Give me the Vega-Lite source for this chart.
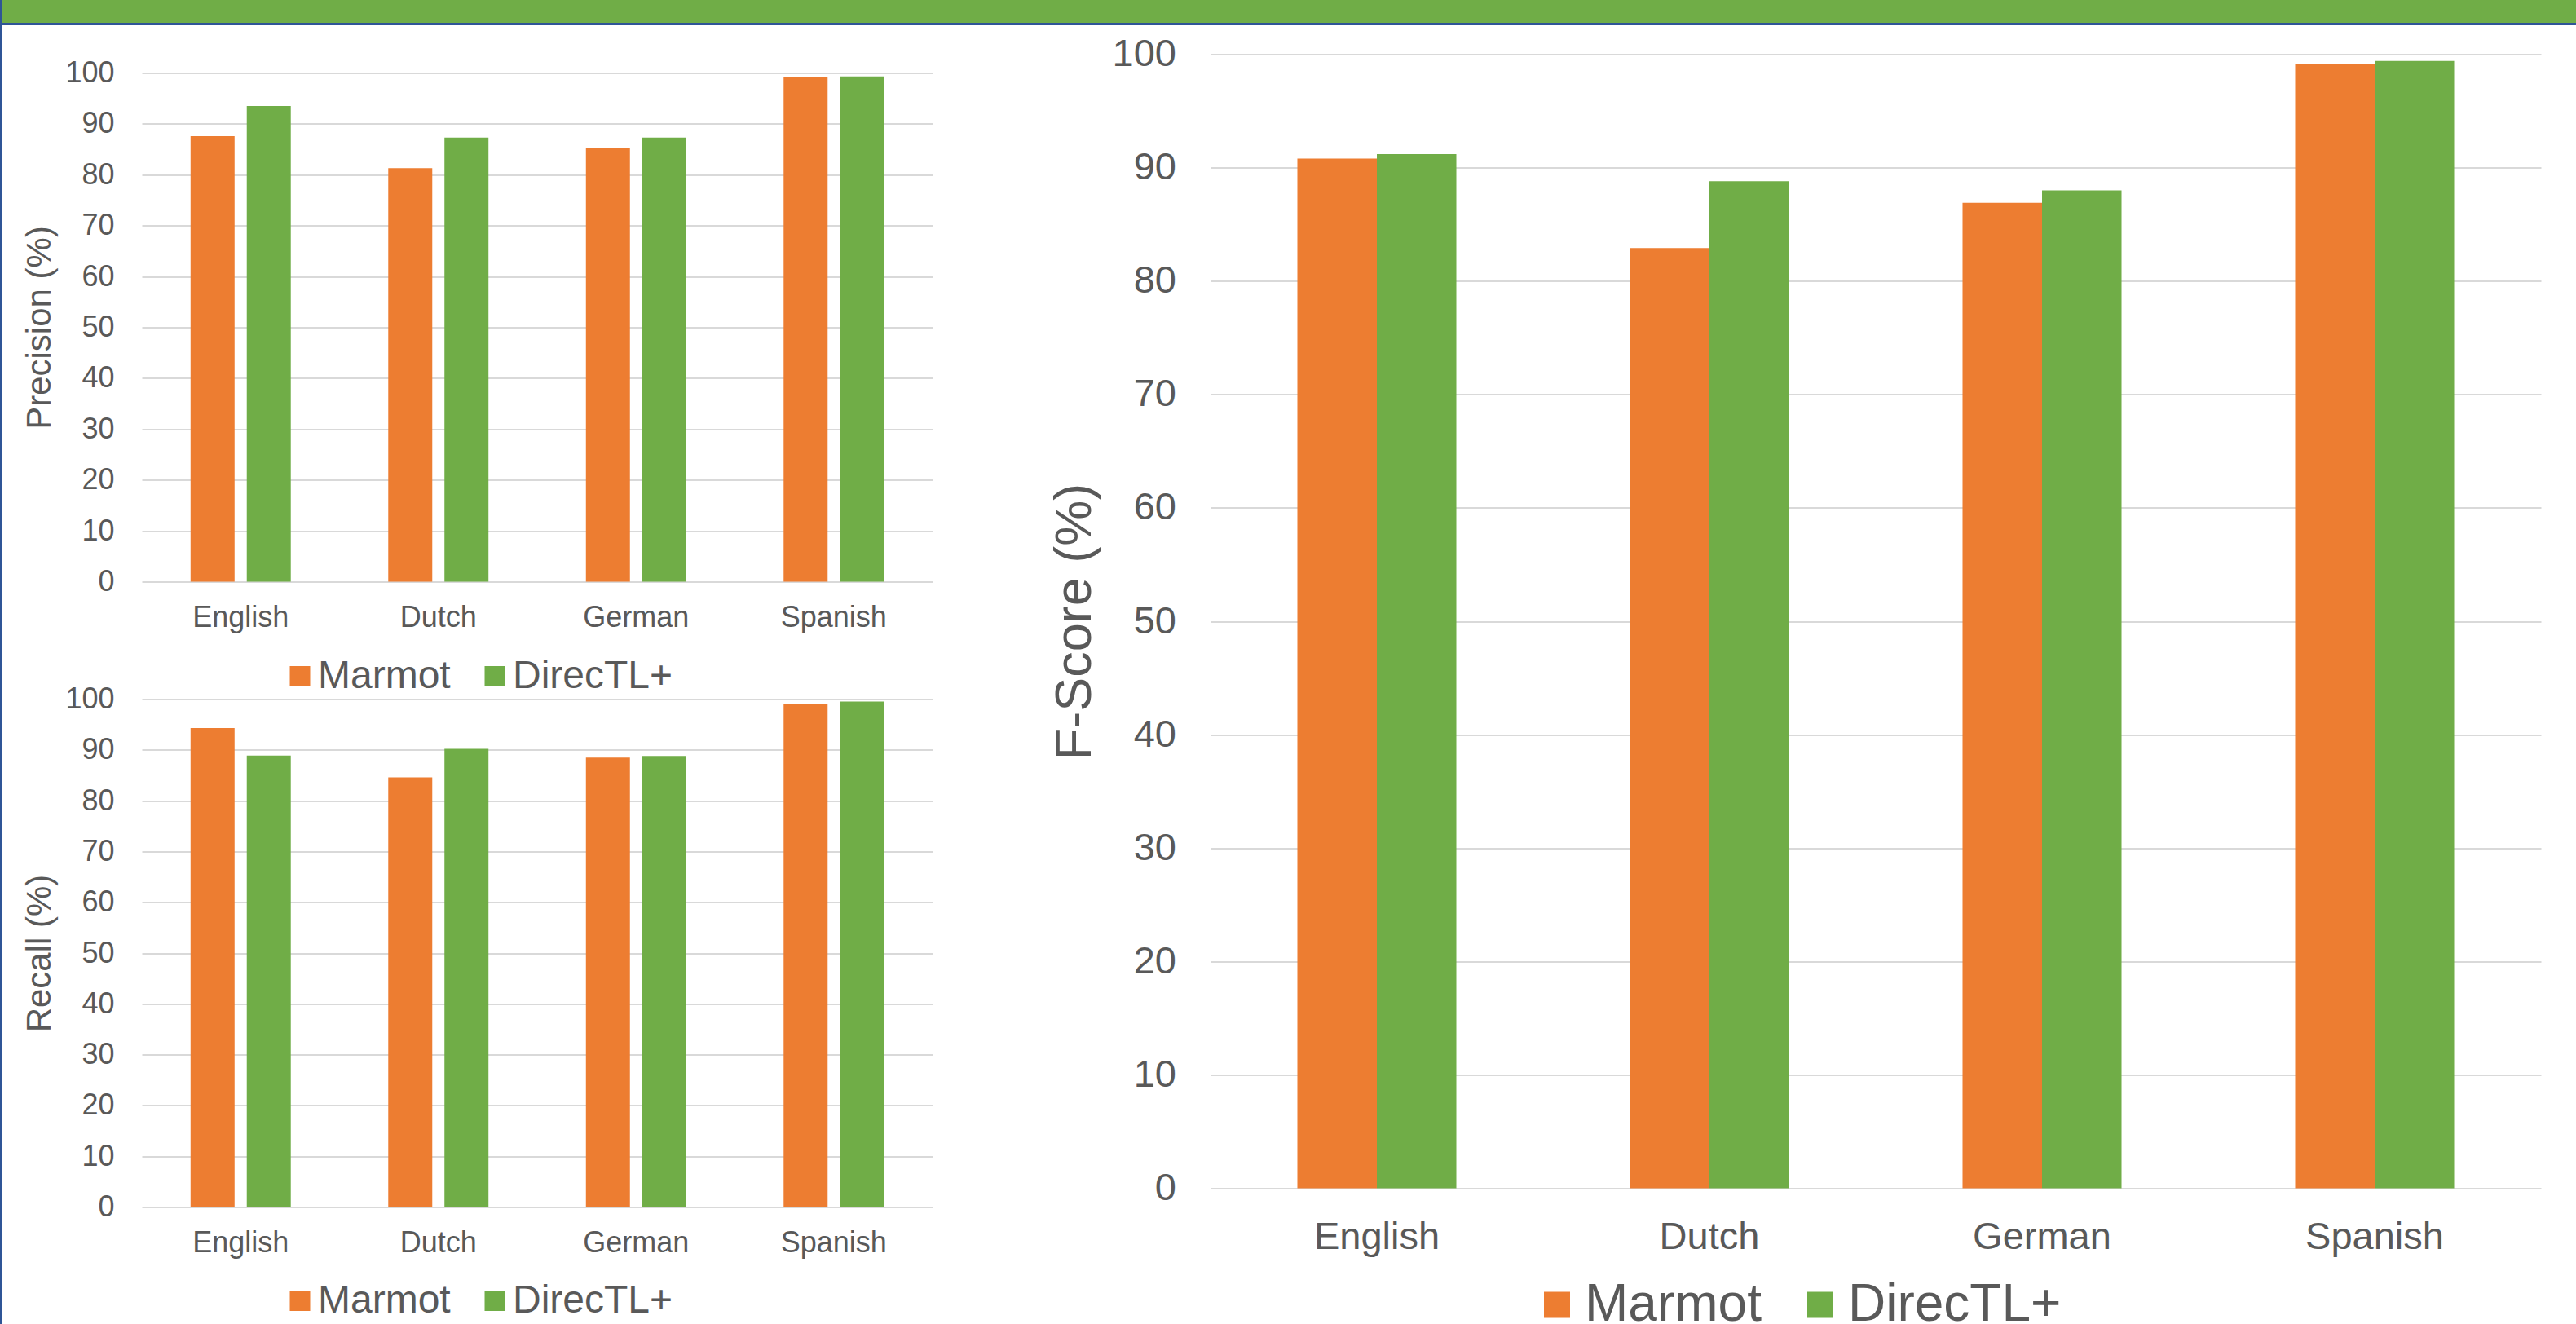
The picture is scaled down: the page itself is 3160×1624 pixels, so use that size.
{
  "$schema": "https://vega.github.io/schema/vega-lite/v6.json",
  "padding": 0,
  "autosize": {"type": "pad"},
  "background": "white",
  "config": {
    "font": "Liberation Sans",
    "view": {"stroke": null},
    "axis": {"labelColor": "#595959", "titleColor": "#595959", "titleFontWeight": "normal", "ticks": false, "domain": false, "gridColor": "#D9D9D9", "gridWidth": 2},
    "legend": {"orient": "none", "direction": "horizontal", "title": null, "symbolType": "square", "symbolStrokeWidth": 0, "labelColor": "#595959", "padding": 0, "labelLimit": 0},
    "title": {"color": "#595959"}
  },
  "datasets": {
    "precision": [
      {"lang": "English", "system": "Marmot", "value": 87.6},
      {"lang": "English", "system": "DirecTL+", "value": 93.5},
      {"lang": "Dutch", "system": "Marmot", "value": 81.3},
      {"lang": "Dutch", "system": "DirecTL+", "value": 87.3},
      {"lang": "German", "system": "Marmot", "value": 85.3},
      {"lang": "German", "system": "DirecTL+", "value": 87.3},
      {"lang": "Spanish", "system": "Marmot", "value": 99.2},
      {"lang": "Spanish", "system": "DirecTL+", "value": 99.3}
    ],
    "recall": [
      {"lang": "English", "system": "Marmot", "value": 94.3},
      {"lang": "English", "system": "DirecTL+", "value": 88.9},
      {"lang": "Dutch", "system": "Marmot", "value": 84.6},
      {"lang": "Dutch", "system": "DirecTL+", "value": 90.2},
      {"lang": "German", "system": "Marmot", "value": 88.5},
      {"lang": "German", "system": "DirecTL+", "value": 88.8},
      {"lang": "Spanish", "system": "Marmot", "value": 99.0},
      {"lang": "Spanish", "system": "DirecTL+", "value": 99.5}
    ],
    "fscore": [
      {"lang": "English", "system": "Marmot", "value": 90.8},
      {"lang": "English", "system": "DirecTL+", "value": 91.2},
      {"lang": "Dutch", "system": "Marmot", "value": 82.9},
      {"lang": "Dutch", "system": "DirecTL+", "value": 88.8},
      {"lang": "German", "system": "Marmot", "value": 86.9},
      {"lang": "German", "system": "DirecTL+", "value": 88.0},
      {"lang": "Spanish", "system": "Marmot", "value": 99.1},
      {"lang": "Spanish", "system": "DirecTL+", "value": 99.4}
    ],
    "none": []
  },
  "resolve": {"scale": {"color": "independent", "xOffset": "independent"}, "legend": {"color": "independent"}},
  "spacing": 0,
  "hconcat": [
    {"width": 3, "height": 1624, "view": {"fill": "#2F5597", "stroke": null}, "data": {"name": "none"}, "mark": "text", "encoding": {}},
    {
      "spacing": 11.5,
      "resolve": {"scale": {"color": "independent", "xOffset": "independent"}, "legend": {"color": "independent"}},
      "vconcat": [
        {
          "spacing": 0,
          "vconcat": [
            {"width": 3157, "height": 28, "view": {"fill": "#70AD47", "stroke": null}, "data": {"name": "none"}, "mark": "text", "encoding": {}},
            {"width": 3157, "height": 3, "view": {"fill": "#2F5597", "stroke": null}, "data": {"name": "none"}, "mark": "text", "encoding": {}}
          ]
        },
        {
          "spacing": 0,
          "resolve": {"scale": {"color": "independent", "xOffset": "independent"}, "legend": {"color": "independent"}},
          "hconcat": [
            {"width": 24, "height": 1, "data": {"name": "none"}, "mark": "text", "encoding": {}},
            {
              "spacing": 143,
              "resolve": {"scale": {"color": "independent", "xOffset": "independent"}, "legend": {"color": "independent"}},
              "hconcat": [
                {
                  "spacing": 4,
                  "resolve": {"scale": {"color": "independent", "xOffset": "independent"}, "legend": {"color": "independent"}},
                  "vconcat": [
                    {"width": 1, "height": 1, "data": {"name": "none"}, "mark": "text", "encoding": {}},
                    {
                      "spacing": 144,
                      "bounds": "flush",
                      "resolve": {"scale": {"color": "independent", "xOffset": "independent"}, "legend": {"color": "independent"}},
                      "vconcat": [
                        {
                          "width": 970, "height": 624,
                          "data": {"name": "precision"},
                          "mark": "bar",
                          "encoding": {
                            "x": {"field": "lang", "type": "nominal", "sort": ["English", "Dutch", "German", "Spanish"],
                              "scale": {"paddingInner": 0.493, "paddingOuter": 0.2465},
                              "axis": {"title": null, "labelAngle": 0, "labelFontSize": 36, "labelPadding": 26.5, "grid": false}},
                            "xOffset": {"field": "system", "type": "nominal", "sort": ["Marmot", "DirecTL+"], "scale": {"paddingInner": 0.217, "paddingOuter": 0}},
                            "y": {"field": "value", "type": "quantitative", "scale": {"domain": [0, 100], "nice": false},
                              "axis": {"title": "Precision (%)", "values": [0, 10, 20, 30, 40, 50, 60, 70, 80, 90, 100], "labelFontSize": 36, "labelPadding": 34, "titleFontSize": 42, "titlePadding": 9}},
                            "color": {"field": "system", "type": "nominal", "sort": ["Marmot", "DirecTL+"],
                              "scale": {"domain": ["Marmot", "DirecTL+"], "range": ["#ED7D31", "#70AD47"]},
                              "legend": {"labelFontSize": 48, "symbolSize": 625, "labelOffset": -2, "columnPadding": 30, "legendX": 170, "legendY": 716}}
                          }
                        },
                        {
                          "width": 970, "height": 623,
                          "data": {"name": "recall"},
                          "mark": "bar",
                          "encoding": {
                            "x": {"field": "lang", "type": "nominal", "sort": ["English", "Dutch", "German", "Spanish"],
                              "scale": {"paddingInner": 0.493, "paddingOuter": 0.2465},
                              "axis": {"title": null, "labelAngle": 0, "labelFontSize": 36, "labelPadding": 26.5, "grid": false}},
                            "xOffset": {"field": "system", "type": "nominal", "sort": ["Marmot", "DirecTL+"], "scale": {"paddingInner": 0.217, "paddingOuter": 0}},
                            "y": {"field": "value", "type": "quantitative", "scale": {"domain": [0, 100], "nice": false},
                              "axis": {"title": "Recall (%)", "values": [0, 10, 20, 30, 40, 50, 60, 70, 80, 90, 100], "labelFontSize": 36, "labelPadding": 34, "titleFontSize": 42, "titlePadding": 9}},
                            "color": {"field": "system", "type": "nominal", "sort": ["Marmot", "DirecTL+"],
                              "scale": {"domain": ["Marmot", "DirecTL+"], "range": ["#ED7D31", "#70AD47"]},
                              "legend": {"labelFontSize": 48, "symbolSize": 625, "labelOffset": -2, "columnPadding": 30, "legendX": 170, "legendY": 714}}
                          }
                        }
                      ]
                    }
                  ]
                },
                {
                  "width": 1632, "height": 1391,
                  "data": {"name": "fscore"},
                  "mark": "bar",
                  "encoding": {
                    "x": {"field": "lang", "type": "nominal", "sort": ["English", "Dutch", "German", "Spanish"],
                      "scale": {"paddingInner": 0.522, "paddingOuter": 0.261},
                      "axis": {"title": null, "labelAngle": 0, "labelFontSize": 47, "labelPadding": 36.5, "grid": false}},
                    "xOffset": {"field": "system", "type": "nominal", "sort": ["Marmot", "DirecTL+"], "scale": {"paddingInner": 0, "paddingOuter": 0}},
                    "y": {"field": "value", "type": "quantitative", "scale": {"domain": [0, 100], "nice": false},
                      "axis": {"title": "F-Score (%)", "values": [0, 10, 20, 30, 40, 50, 60, 70, 80, 90, 100], "labelFontSize": 47, "labelPadding": 42.5, "titleFontSize": 63, "titlePadding": 14}},
                    "color": {"field": "system", "type": "nominal", "sort": ["Marmot", "DirecTL+"],
                      "scale": {"domain": ["Marmot", "DirecTL+"], "range": ["#ED7D31", "#70AD47"]},
                      "legend": {"labelFontSize": 64, "symbolSize": 1024, "labelOffset": 2, "columnPadding": 40, "legendX": 393, "legendY": 1502}}
                  }
                }
              ]
            }
          ]
        }
      ]
    }
  ]
}
